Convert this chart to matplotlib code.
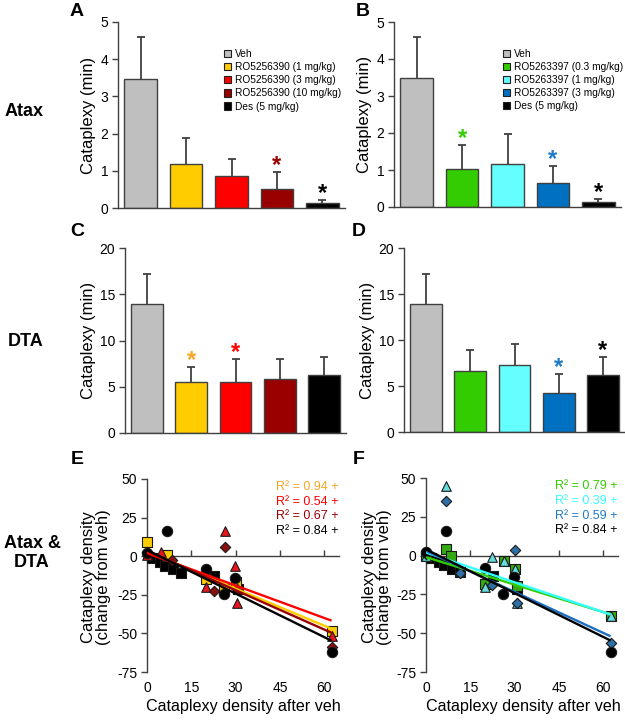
import numpy as np
import matplotlib
matplotlib.use("Agg")
import matplotlib.pyplot as plt
from matplotlib.patches import Patch
from matplotlib import transforms

plt.rcParams['font.family'] = ['Liberation Sans', 'DejaVu Sans']
plt.rcParams['axes.unicode_minus'] = False

# ---------------- data ----------------
groups_left = ["Veh", "RO5256390 (1 mg/kg)", "RO5256390 (3 mg/kg)", "RO5256390 (10 mg/kg)", "Des (5 mg/kg)"]
groups_right = ["Veh", "RO5263397 (0.3 mg/kg)", "RO5263397 (1 mg/kg)", "RO5263397 (3 mg/kg)", "Des (5 mg/kg)"]
colors_left = ["#BFBFBF", "#FFCC00", "#FF0000", "#990000", "#000000"]
colors_right = ["#BFBFBF", "#33CC00", "#66FFFF", "#0070C0", "#000000"]

A_mean = [3.48, 1.19, 0.87, 0.52, 0.13]
A_err = [1.12, 0.68, 0.46, 0.44, 0.09]
A_sig = [0, 0, 0, 1, 1]
A_sigcol = [None, None, None, "#990000", "#000000"]

B_mean = [3.48, 1.03, 1.17, 0.66, 0.13]
B_err = [1.12, 0.65, 0.81, 0.46, 0.09]
B_sig = [0, 1, 0, 1, 1]
B_sigcol = [None, "#33CC00", None, "#1E7BC8", "#000000"]

C_mean = [13.95, 5.5, 5.5, 5.85, 6.25]
C_err = [3.25, 1.6, 2.55, 2.2, 1.95]
C_sig = [0, 1, 1, 0, 0]
C_sigcol = [None, "#F5A623", "#FF0000", None, None]

D_mean = [13.9, 6.6, 7.3, 4.2, 6.2]
D_err = [3.3, 2.35, 2.3, 2.1, 2.0]
D_sig = [0, 0, 0, 1, 1]
D_sigcol = [None, None, None, "#1E7BC8", "#000000"]

# scatter E
E_sq_y_x = [0, 6.9, 20, 26, 30, 62.5]
E_sq_y_y = [9.5, 0.5, -14.5, -21, -16.5, -48.5]
E_tri_x = [0, 4.6, 20, 26.4, 29.8, 30.5, 62.5]
E_tri_y = [1, 3, -20, 16.4, -6.3, -30.5, -52]
E_dia_x = [0, 8.5, 22.7, 26.4, 30.5, 62.5]
E_dia_y = [2.5, -2.5, -22.5, 6, -21, -59]
# Des (shared)
des_circ_x = [0, 6.9, 20, 26.2, 29.8, 62.5]
des_circ_y = [2, 16, -8, -24.6, -14, -62]
des_sq_x = [1.6, 4.4, 6.1, 8.9, 11.4, 22.7, 30.8]
des_sq_y = [-1.3, -4, -6.3, -8.4, -10.6, -13, -21.5]
# scatter F
F_sq_x = [0, 6.8, 8.6, 20, 26.3, 30, 30.8, 62.5]
F_sq_y = [0, 4.3, 0, -18, -3.6, -8.6, -19.7, -39]
F_tri_x = [0, 6.8, 11.4, 20, 22.5, 26.3, 30, 30.8, 62.5]
F_tri_y = [0, 44.6, -10, -20, -1, -3.6, -8.6, -30.5, -38.6]
F_dia_x = [0, 6.8, 11.4, 22.5, 30, 30.8, 62.5]
F_dia_y = [1, 35, -11, -18.7, 3.4, -30.5, -56.6]

# regression lines (intercept, slope) and R^2 labels
E_fit_int = [3.0, 2.0, 3.5, 4.0]
E_fit_slope = [-0.80, -0.70, -0.85, -0.94]
E_fit_col = ["#FFCC00", "#FF0000", "#990000", "#000000"]
E_r2 = ["R\u00b2 = 0.94 +", "R\u00b2 = 0.54 +", "R\u00b2 = 0.67 +", "R\u00b2 = 0.84 +"]
E_r2_col = ["#F5A623", "#FF0000", "#990000", "#000000"]
F_fit_int = [-1.0, 2.0, 3.0, 4.0]
F_fit_slope = [-0.59, -0.64, -0.88, -0.94]
F_fit_col = ["#33CC00", "#33FFFF", "#1E6FC0", "#000000"]
F_r2 = ["R\u00b2 = 0.79 +", "R\u00b2 = 0.39 +", "R\u00b2 = 0.59 +", "R\u00b2 = 0.84 +"]
F_r2_col = ["#33CC00", "#33FFFF", "#1E7BC8", "#000000"]
fit_xmax = 62.5

scatter_xticks = [0, 15, 30, 45, 60]
scatter_yticks = [-75, -50, -25, 0, 25, 50]

# ---------------- figure ----------------
W, H = 625, 720
fig = plt.figure(figsize=(W / 100, H / 100), dpi=100)

def px_axes(l, t, r, b):
    return fig.add_axes([l / W, 1 - b / H, (r - l) / W, (b - t) / H])

AX = "#404040"

def style(ax):
    for s in ["top", "right"]:
        ax.spines[s].set_visible(False)
    for s in ["left", "bottom"]:
        ax.spines[s].set_color(AX)
        ax.spines[s].set_linewidth(1.0)
    ax.tick_params(axis="y", direction="out", length=4, width=1, color=AX, labelsize=10, pad=3)

def bar_panel(ax, means, errs, sig, sigcol, cols, ymax, ystep):
    x = np.arange(len(means))
    ax.bar(x, means, width=0.72, color=cols, edgecolor=AX, linewidth=1.0, zorder=2)
    _, caps, _ = ax.errorbar(x, means, yerr=[np.zeros(len(errs)), errs], fmt="none", ecolor=AX,
                             elinewidth=1.3, capsize=3, capthick=1.3, zorder=3)
    if len(caps) == 2:
        caps[0].set_visible(False)
    for i in range(len(means)):
        if sig[i]:
            ax.annotate("*", xy=(x[i], means[i] + errs[i]), xytext=(0, 0), textcoords="offset points",
                        ha="center", va="baseline", fontsize=17, fontweight="bold", color=sigcol[i])
    ax.set_xlim(-0.5, 4.5)
    ax.set_ylim(0, ymax)
    ax.set_yticks(np.arange(0, ymax + 0.01, ystep))
    ax.set_xticks([])
    style(ax)
    ax.text(-0.13 if ymax < 10 else -0.167, 0.5, "Cataplexy (min)", transform=ax.transAxes,
            rotation=90, ha="center", va="center", fontsize=12)

axA = px_axes(118, 22, 345, 208)
bar_panel(axA, A_mean, A_err, A_sig, A_sigcol, colors_left, 5, 1)
axB = px_axes(394, 22, 621, 207)
bar_panel(axB, B_mean, B_err, B_sig, B_sigcol, colors_right, 5, 1)
axC = px_axes(125, 248, 346, 433)
bar_panel(axC, C_mean, C_err, C_sig, C_sigcol, colors_left, 20, 5)
axD = px_axes(404, 248, 625, 432)
bar_panel(axD, D_mean, D_err, D_sig, D_sigcol, colors_right, 20, 5)

def add_legend(ax, labels, cols, xa):
    handles = [Patch(facecolor=c, edgecolor="#202020", linewidth=0.8) for c in cols]
    ax.legend(handles, labels, loc="upper left", bbox_to_anchor=(xa, 0.853), frameon=False,
              fontsize=7.3, handlelength=0.72, handleheight=0.72, handletextpad=0.45,
              labelspacing=0.3, borderpad=0, borderaxespad=0)

add_legend(axA, groups_left, colors_left, 0.465)
add_legend(axB, groups_right, colors_right, 0.478)

def scatter_panel(ax, series, fits_int, fits_slope, fits_col, r2, r2col):
    for xs, ys, m, fc, s in series:
        ax.scatter(xs, ys, marker=m, s=s, facecolor=fc, edgecolor="#1a1a1a", linewidths=0.8,
                   clip_on=False, zorder=3)
    xx = np.array([0, fit_xmax])
    for a, b, c in zip(fits_int, fits_slope, fits_col):
        ax.plot(xx, a + b * xx, color=c, lw=1.7, zorder=4, solid_capstyle="butt")
    ax.set_xlim(0, 65)
    ax.set_ylim(-75, 50)
    ax.set_yticks(scatter_yticks)
    ax.set_xticks(scatter_xticks)
    style(ax)
    ax.spines["bottom"].set_position(("data", 0))
    ax.tick_params(axis="x", direction="in", length=4, width=1, color=AX, labelbottom=False)
    trans = transforms.blended_transform_factory(ax.transData, ax.transAxes)
    for t in scatter_xticks:
        ax.text(t, -0.083, str(t), transform=trans, ha="center", va="center", fontsize=10)
    for k, (txt, c) in enumerate(zip(r2, r2col)):
        ax.text(1.0, 0.958 - k * 0.076, txt, transform=ax.transAxes, ha="right", va="center",
                fontsize=9, color=c)

axE = px_axes(147, 479, 339, 672)
scatter_panel(axE, [
    (des_sq_x, des_sq_y, "s", "#000000", 42),
    (E_sq_y_x, E_sq_y_y, "s", "#FFCC00", 42),
    (E_tri_x, E_tri_y, "^", "#E8141E", 48),
    (E_dia_x, E_dia_y, "D", "#8B1010", 28),
    (des_circ_x, des_circ_y, "o", "#000000", 55),
], E_fit_int, E_fit_slope, E_fit_col, E_r2, E_r2_col)

axF = px_axes(426, 478, 618, 672)
scatter_panel(axF, [
    (des_sq_x, des_sq_y, "s", "#000000", 42),
    (F_sq_x, F_sq_y, "s", "#33AA11", 42),
    (F_tri_x, F_tri_y, "^", "#66DDDD", 48),
    (F_dia_x, F_dia_y, "D", "#2E6FA8", 28),
    (des_circ_x, des_circ_y, "o", "#000000", 55),
], F_fit_int, F_fit_slope, F_fit_col, F_r2, F_r2_col)

for ax, xc in [(axE, 96), (axF, 377)]:
    fig.text(xc / W, 1 - 577 / H, "Cataplexy density\n(change from veh)", rotation=90,
             ha="center", va="center", fontsize=12, linespacing=1.0)
for xc in [243, 523]:
    fig.text(xc / W, 1 - 706 / H, "Cataplexy density after veh", ha="center", va="center", fontsize=11.6)

# panel letters
for lab, (x, y) in {"A": (77, 11), "B": (363, 11), "C": (77, 231), "D": (359, 231),
                    "E": (77, 460), "F": (359, 460)}.items():
    fig.text(x / W, 1 - y / H, lab, ha="center", va="center", fontsize=14, fontweight="bold")

# row labels
fig.text(24 / W, 1 - 112 / H, "Atax", ha="center", va="center", fontsize=13, fontweight="bold")
fig.text(26 / W, 1 - 342 / H, "DTA", ha="center", va="center", fontsize=13, fontweight="bold")
fig.text(32 / W, 1 - 553 / H, "Atax &\nDTA", ha="center", va="center", fontsize=13,
         fontweight="bold", linespacing=1.1)

fig.savefig("out.png", dpi=100)
